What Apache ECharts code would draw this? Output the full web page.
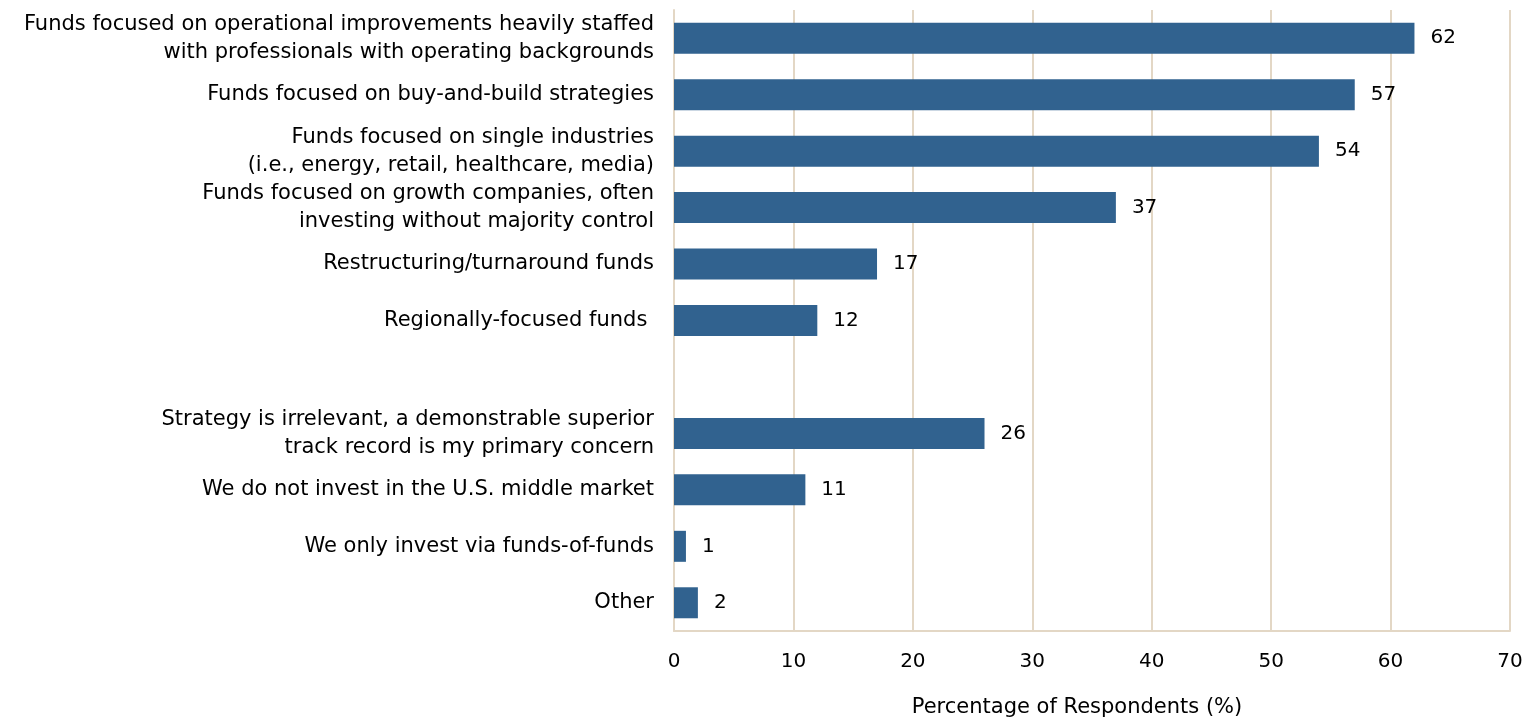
<!DOCTYPE html>
<html>
<head>
<meta charset="utf-8">
<script src="https://cdn.jsdelivr.net/npm/echarts@6/dist/echarts.min.js"></script>
<style>
  html, body { margin: 0; padding: 0; background: #fff; }
  #chart { width: 1527px; height: 723px; }
</style>
</head>
<body>
<div id="chart"></div>
<script>
// Fund strategies, listed top to bottom; the empty entry separates the two groups
const categories = [
  'Funds focused on operational improvements heavily staffed\nwith professionals with operating backgrounds',
  'Funds focused on buy-and-build strategies',
  'Funds focused on single industries\n(i.e., energy, retail, healthcare, media)',
  'Funds focused on growth companies, often\ninvesting without majority control',
  'Restructuring/turnaround funds',
  'Regionally-focused funds ',
  '',
  'Strategy is irrelevant, a demonstrable superior\ntrack record is my primary concern',
  'We do not invest in the U.S. middle market',
  'We only invest via funds-of-funds',
  'Other'
];
const values = [62, 57, 54, 37, 17, 12, null, 26, 11, 1, 2];
const xTicks = { min: 0, max: 70, interval: 10 };
const axisTitle = 'Percentage of Respondents (%)';

const font = 'DejaVu Sans';
const chart = echarts.init(document.getElementById('chart'));
chart.setOption({
  animation: false,
  grid: { left: 674, right: 17, top: 10, bottom: 90 },
  xAxis: {
    type: 'value',
    min: xTicks.min, max: xTicks.max, interval: xTicks.interval,
    name: axisTitle,
    nameLocation: 'middle',
    nameGap: 66,
    nameTextStyle: { fontFamily: font, fontSize: 21, color: '#000', padding: [0, 30, 0, 0] },
    axisLine: { show: true, lineStyle: { color: '#E3D7C5', width: 2 } },
    axisTick: { show: false },
    axisLabel: { fontFamily: font, fontSize: 20, color: '#000', margin: 21 },
    splitLine: { show: true, lineStyle: { color: '#E3D7C5', width: 2 } }
  },
  yAxis: {
    type: 'category',
    data: categories,
    inverse: true,
    axisLine: { show: true, lineStyle: { color: '#E3D7C5', width: 2 } },
    axisTick: { show: false },
    axisLabel: { fontFamily: font, fontSize: 21, color: '#000', margin: 20, align: 'right', lineHeight: 28 }
  },
  series: [{
    type: 'bar',
    data: values,
    barWidth: 31,
    itemStyle: { color: '#31628F' },
    label: {
      show: true,
      position: 'right',
      distance: 16,
      fontFamily: font,
      fontSize: 20,
      color: '#000'
    }
  }]
});
</script>
</body>
</html>
